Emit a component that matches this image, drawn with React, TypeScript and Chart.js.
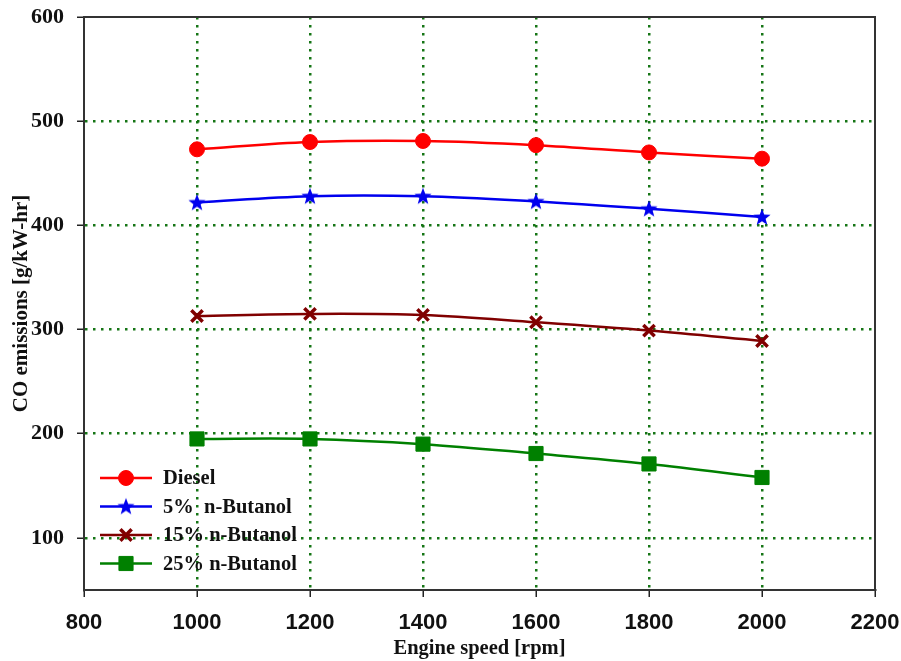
import React, { useEffect, useRef } from "react";
import { Chart, registerables } from "chart.js";
import { drawPoint } from "chart.js/helpers";

Chart.register(...registerables);

const speeds = [1000, 1200, 1400, 1600, 1800, 2000];
const diesel = [473, 480, 481, 477, 470, 464];
const butanol5 = [422, 428, 428, 423, 416, 408];
const butanol15 = [313, 315, 314, 307, 299, 289];
const butanol25 = [195, 195, 190, 181, 171, 158];
const seriesNames = ["Diesel", "5%  n-Butanol", "15% n-Butanol", "25% n-Butanol"];
const xTicks = [800, 1000, 1200, 1400, 1600, 1800, 2000, 2200];
const yTicks = [100, 200, 300, 400, 500, 600];

function makeStar(color: string): HTMLCanvasElement {
  const c = document.createElement("canvas");
  c.width = 20;
  c.height = 20;
  const ctx = c.getContext("2d")!;
  const cx = 10, cy = 10.5, R = 9, r = 3.8;
  ctx.beginPath();
  for (let i = 0; i < 10; i++) {
    const rad = i % 2 === 0 ? R : r;
    const a = -Math.PI / 2 + (i * Math.PI) / 5;
    const px = cx + rad * Math.cos(a);
    const py = cy + rad * Math.sin(a);
    if (i === 0) ctx.moveTo(px, py);
    else ctx.lineTo(px, py);
  }
  ctx.closePath();
  ctx.fillStyle = color;
  ctx.fill();
  return c;
}

const GRID = "#157515";

export default function App() {
  const ref = useRef<HTMLCanvasElement>(null);
  useEffect(() => {
    const star = makeStar("#0000ee");
    const values = [diesel, butanol5, butanol15, butanol25];
    const colors = ["#ff0000", "#0000ee", "#800000", "#008000"];
    const styles: any[] = ["circle", star, "crossRot", "rect"];
    const radii = [7.5, 9, 8, 10];
    const pbw = [1, 1, 3.5, 1];

    const frame = {
      id: "frame",
      afterDatasetsDraw(chart: any) {
        const { ctx, chartArea: a } = chart;
        ctx.save();
        ctx.strokeStyle = "#333";
        ctx.lineWidth = 2;
        ctx.beginPath();
        ctx.moveTo(a.left, a.top);
        ctx.lineTo(a.right, a.top);
        ctx.lineTo(a.right, a.bottom);
        ctx.stroke();
        chart.data.datasets.forEach((ds: any, i: number) => {
          const y = a.bottom - 112 + i * 28.5;
          const x0 = a.left + 16;
          ctx.strokeStyle = ds.borderColor;
          ctx.lineWidth = 2.5;
          ctx.beginPath();
          ctx.moveTo(x0, y);
          ctx.lineTo(x0 + 52, y);
          ctx.stroke();
          ctx.fillStyle = ds.pointBackgroundColor;
          ctx.strokeStyle = ds.pointBorderColor;
          ctx.lineWidth = ds.pointBorderWidth;
          drawPoint(ctx, { pointStyle: ds.pointStyle, rotation: 0, radius: ds.pointRadius, borderWidth: ds.pointBorderWidth }, x0 + 26, y);
          ctx.fillStyle = "#111";
          ctx.font = "bold 20.5px 'Liberation Serif'";
          ctx.textBaseline = "middle";
          ctx.textAlign = "left";
          ctx.fillText(ds.label, x0 + 63, y + 1);
        });
        ctx.restore();
      },
    };

    const chart = new Chart(ref.current!, {
      type: "line",
      data: {
        datasets: values.map((v, i) => ({
          label: seriesNames[i],
          data: speeds.map((s, j) => ({ x: s, y: v[j] })),
          borderColor: colors[i],
          backgroundColor: colors[i],
          pointBackgroundColor: colors[i],
          pointBorderColor: colors[i],
          pointBorderWidth: pbw[i],
          pointStyle: styles[i],
          pointRadius: radii[i],
          borderWidth: 2.5,
          tension: 0.35,
          fill: false,
        })),
      },
      options: {
        responsive: false,
        animation: false,
        layout: { padding: { left: 0, top: 17, right: 26, bottom: 0 } },
        plugins: { legend: { display: false }, tooltip: { enabled: false } },
        scales: {
          x: {
            type: "linear",
            min: 800,
            max: 2200,
            afterBuildTicks: (s: any) => {
              s.ticks = xTicks.map((v) => ({ value: v }));
            },
            afterFit: (s: any) => {
              s.height = 71;
              s.paddingLeft = 0;
              s.paddingRight = 0;
            },
            grid: {
              color: (c: any) => (c.tick && (c.tick.value === 800 || c.tick.value === 2200) ? "rgba(0,0,0,0)" : GRID),
              lineWidth: 2.5,
              tickColor: "#222",
              tickWidth: 1.5,
              tickLength: 7,
            },
            border: { color: "#333", width: 2, dash: [2.5, 5.5] },
            ticks: {
              color: "#111",
              padding: 13,
              font: { family: "'Liberation Sans'", size: 22, weight: "bold" },
              maxRotation: 0,
              callback: (v: any) => String(v),
            },
            title: {
              display: true,
              text: "Engine speed [rpm]",
              color: "#111",
              font: { family: "'Liberation Serif'", size: 20.5, weight: "bold" },
              padding: { top: 0, bottom: 0 },
            },
          },
          y: {
            type: "linear",
            min: 50,
            max: 600,
            afterBuildTicks: (s: any) => {
              s.ticks = yTicks.map((v) => ({ value: v }));
            },
            afterFit: (s: any) => {
              s.width = 84;
              s.paddingTop = 0;
              s.paddingBottom = 0;
            },
            grid: {
              color: (c: any) => (c.tick && c.tick.value === 600 ? "rgba(0,0,0,0)" : GRID),
              lineWidth: 2.5,
              tickColor: "#222",
              tickWidth: 1.5,
              tickLength: 7,
            },
            border: { color: "#333", width: 2, dash: [2.5, 5.5] },
            ticks: {
              color: "#111",
              padding: 13,
              font: { family: "'Liberation Serif'", size: 22, weight: "bold" },
              callback: (v: any) => String(v),
            },
            title: {
              display: true,
              text: "CO emissions [g/kW-hr]",
              color: "#111",
              font: { family: "'Liberation Serif'", size: 21, weight: "bold" },
              padding: { top: 9, bottom: 0 },
            },
          },
        },
      },
      plugins: [frame],
    } as any);
    return () => chart.destroy();
  }, []);

  return (
    <div style={{ position: "absolute", left: 0, top: 0, width: 901, height: 661, background: "#fff" }}>
      <canvas ref={ref} width={901} height={661} style={{ width: 901, height: 661 }} />
    </div>
  );
}
